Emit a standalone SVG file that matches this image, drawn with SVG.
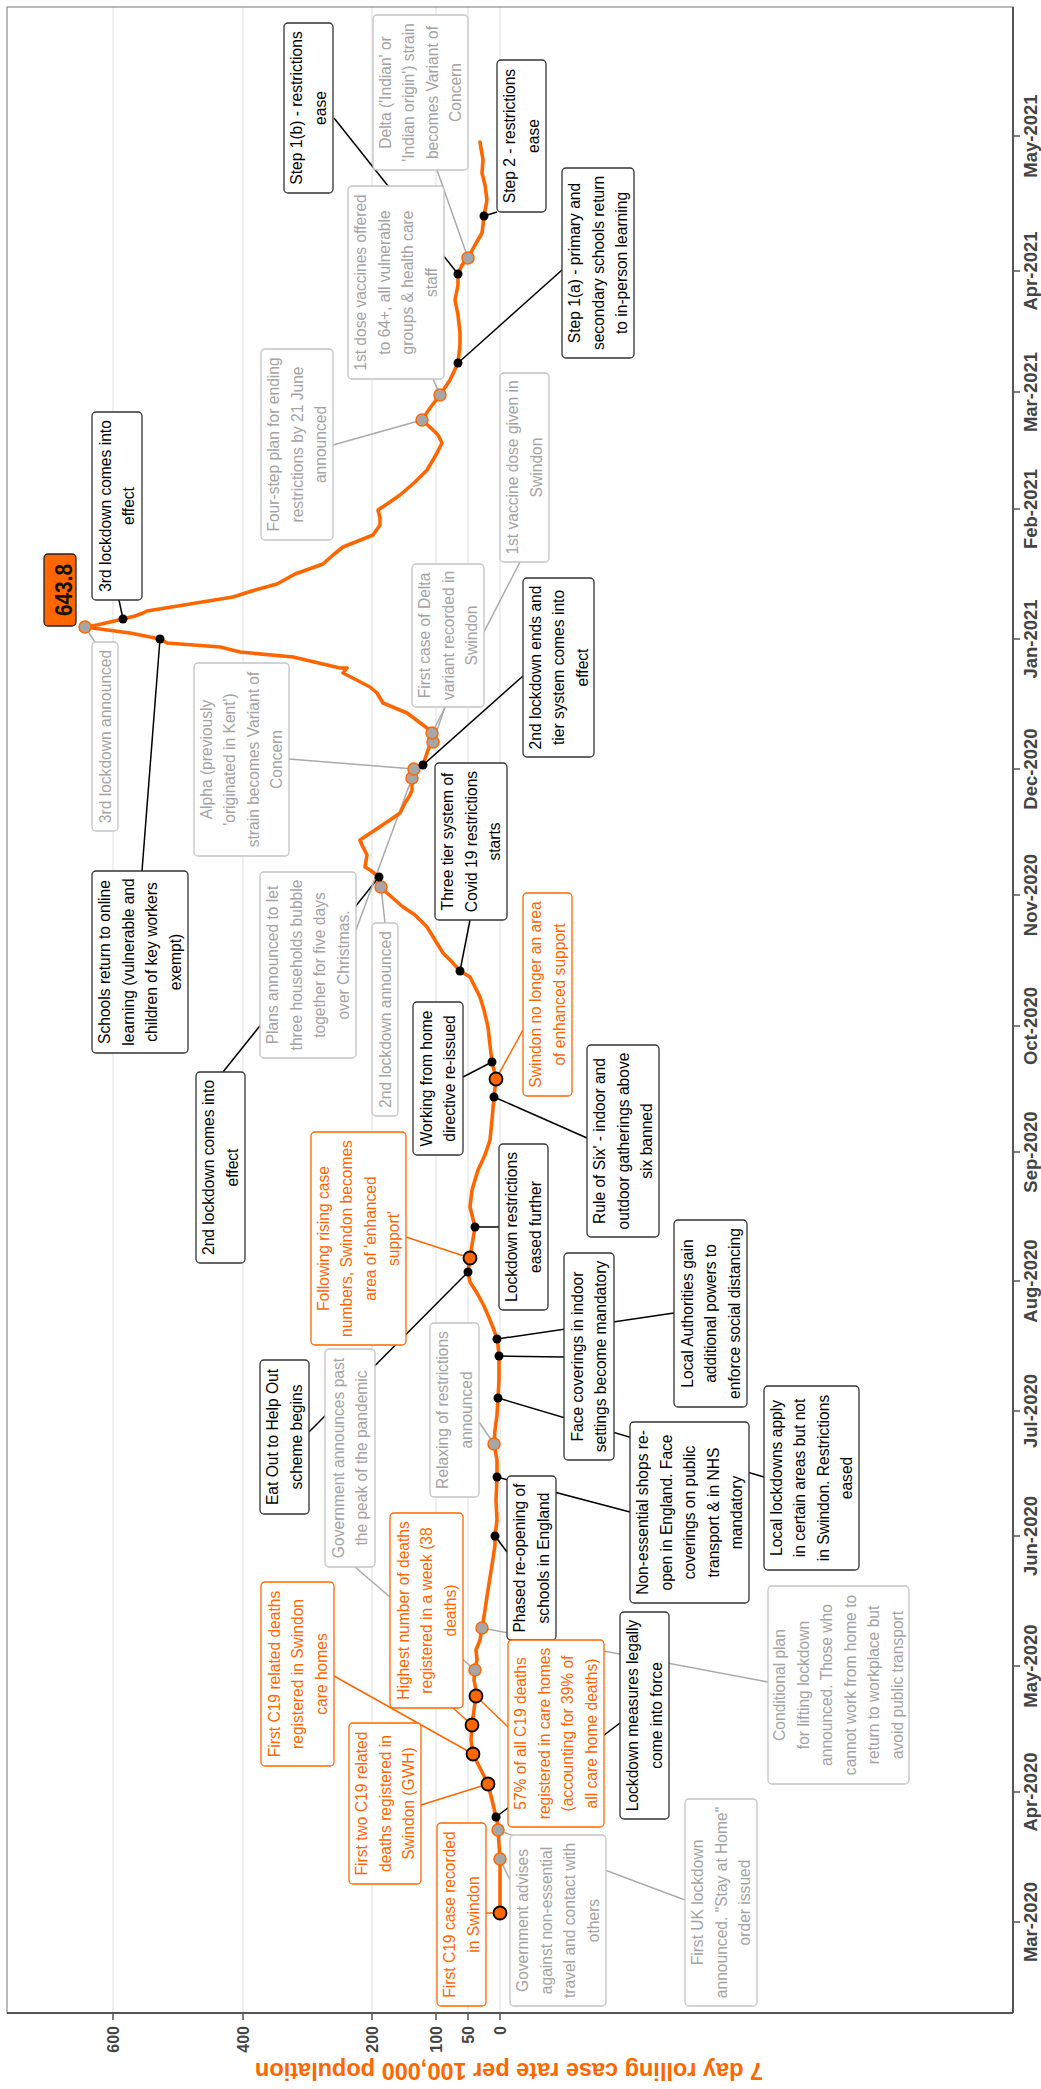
<svg xmlns="http://www.w3.org/2000/svg" width="1041" height="2089" viewBox="0 0 1041 2089">
<style>
text{font-family:"Liberation Sans",Arial,sans-serif;font-size:15.6px;text-anchor:middle}
.bk rect{fill:#fff;stroke:#333;stroke-width:1.3}
.gr rect{fill:#fff;stroke:#c4c4c4;stroke-width:1.3}
.or rect{fill:#fff;stroke:#ff6600;stroke-width:1.3}
.bk text{fill:#000}
.gr text{fill:#a3a3a3}
.or text{fill:#ff6600}
.grid{stroke:#e4e4e4;stroke-width:1.2}
.tick{stroke:#555;stroke-width:1.5}
.vlab{font-weight:bold;font-size:16px;fill:#444;text-anchor:end}
.dlab{font-weight:bold;font-size:18.5px;fill:#444}
.cb{stroke:#000;stroke-width:1.5;fill:none}
.cg{stroke:#aaa;stroke-width:1.5;fill:none}
.co{stroke:#ff6600;stroke-width:1.5;fill:none}
.mb{fill:#000}
.mg{fill:#a6a6a6;stroke:#ff6600;stroke-width:1.5}
.mo{fill:#ff6600;stroke:#000;stroke-width:1.8}
</style>
<rect x="0" y="0" width="1041" height="2089" fill="#fff"/>
<g id="axes">
<g class="grid">
<line x1="113" y1="7" x2="113" y2="2013"/><line x1="243" y1="7" x2="243" y2="2013"/><line x1="372" y1="7" x2="372" y2="2013"/><line x1="436" y1="7" x2="436" y2="2013"/><line x1="468" y1="7" x2="468" y2="2013"/><line x1="500" y1="7" x2="500" y2="2013"/>
</g>
<rect x="7" y="7" width="1006" height="2006" fill="none" stroke="#777" stroke-width="1"/>
<line x1="7" y1="2013" x2="1013" y2="2013" stroke="#555" stroke-width="2"/>
<line x1="1013" y1="7" x2="1013" y2="2013" stroke="#555" stroke-width="2"/>
<g class="tick">
<line x1="113" y1="2013" x2="113" y2="2020"/><line x1="243" y1="2013" x2="243" y2="2020"/><line x1="372" y1="2013" x2="372" y2="2020"/><line x1="436" y1="2013" x2="436" y2="2020"/><line x1="468" y1="2013" x2="468" y2="2020"/><line x1="500" y1="2013" x2="500" y2="2020"/>
<line x1="1013" y1="1922" x2="1020" y2="1922"/><line x1="1013" y1="1792" x2="1020" y2="1792"/><line x1="1013" y1="1666" x2="1020" y2="1666"/><line x1="1013" y1="1536" x2="1020" y2="1536"/><line x1="1013" y1="1411" x2="1020" y2="1411"/><line x1="1013" y1="1281" x2="1020" y2="1281"/><line x1="1013" y1="1152" x2="1020" y2="1152"/><line x1="1013" y1="1026" x2="1020" y2="1026"/><line x1="1013" y1="895" x2="1020" y2="895"/><line x1="1013" y1="769" x2="1020" y2="769"/><line x1="1013" y1="639" x2="1020" y2="639"/><line x1="1013" y1="509" x2="1020" y2="509"/><line x1="1013" y1="392" x2="1020" y2="392"/><line x1="1013" y1="271" x2="1020" y2="271"/><line x1="1013" y1="136" x2="1020" y2="136"/>
</g>
<text class="vlab" transform="translate(113,2026) rotate(-90)" x="0" y="5.8">600</text>
<text class="vlab" transform="translate(243,2026) rotate(-90)" x="0" y="5.8">400</text>
<text class="vlab" transform="translate(372,2026) rotate(-90)" x="0" y="5.8">200</text>
<text class="vlab" transform="translate(436,2026) rotate(-90)" x="0" y="5.8">100</text>
<text class="vlab" transform="translate(468,2026) rotate(-90)" x="0" y="5.8">50</text>
<text class="vlab" transform="translate(500,2026) rotate(-90)" x="0" y="5.8">0</text>
<text class="dlab" transform="translate(1037,1922) rotate(-90)">Mar-2020</text>
<text class="dlab" transform="translate(1037,1792) rotate(-90)">Apr-2020</text>
<text class="dlab" transform="translate(1037,1666) rotate(-90)">May-2020</text>
<text class="dlab" transform="translate(1037,1536) rotate(-90)">Jun-2020</text>
<text class="dlab" transform="translate(1037,1411) rotate(-90)">Jul-2020</text>
<text class="dlab" transform="translate(1037,1281) rotate(-90)">Aug-2020</text>
<text class="dlab" transform="translate(1037,1152) rotate(-90)">Sep-2020</text>
<text class="dlab" transform="translate(1037,1026) rotate(-90)">Oct-2020</text>
<text class="dlab" transform="translate(1037,895) rotate(-90)">Nov-2020</text>
<text class="dlab" transform="translate(1037,769) rotate(-90)">Dec-2020</text>
<text class="dlab" transform="translate(1037,639) rotate(-90)">Jan-2021</text>
<text class="dlab" transform="translate(1037,509) rotate(-90)">Feb-2021</text>
<text class="dlab" transform="translate(1037,392) rotate(-90)">Mar-2021</text>
<text class="dlab" transform="translate(1037,271) rotate(-90)">Apr-2021</text>
<text class="dlab" transform="translate(1037,136) rotate(-90)">May-2021</text>
<text transform="translate(509,2063) rotate(180)" style="font-weight:bold;font-size:23.5px;fill:#ff6600">7 day rolling case rate per 100,000 population</text>
</g>
<g id="connectors">
<g class="cb">
<line x1="334" y1="118" x2="458" y2="274"/>
<line x1="562" y1="270" x2="458" y2="363"/>
<line x1="497" y1="212" x2="484" y2="216"/>
<line x1="119" y1="600" x2="123" y2="619"/>
<line x1="142" y1="871" x2="160" y2="639"/>
<line x1="523" y1="676" x2="423" y2="765"/>
<line x1="470" y1="920" x2="460" y2="971"/>
<line x1="223" y1="1072" x2="379" y2="877"/>
<line x1="463" y1="1077" x2="492" y2="1062"/>
<line x1="587" y1="1138" x2="494" y2="1097"/>
<line x1="499" y1="1227" x2="475" y2="1227"/>
<line x1="309" y1="1432" x2="468" y2="1272"/>
<line x1="507" y1="1552" x2="495" y2="1536"/>
<line x1="620" y1="1723" x2="496" y2="1817"/>
<line x1="630" y1="1512" x2="497" y2="1477"/>
<line x1="564" y1="1357" x2="499" y2="1356"/>
<line x1="674" y1="1313" x2="497" y2="1339"/>
<line x1="764" y1="1477" x2="498" y2="1398"/>
</g>
<g class="cg">
<line x1="437" y1="170" x2="468" y2="258"/>
<line x1="433" y1="379" x2="440" y2="395"/>
<line x1="333" y1="445" x2="422" y2="420"/>
<line x1="520" y1="562" x2="432" y2="733"/>
<line x1="445" y1="707" x2="433" y2="742"/>
<line x1="95" y1="642" x2="85" y2="627"/>
<line x1="289" y1="759" x2="414" y2="769"/>
<line x1="356" y1="930" x2="412" y2="778"/>
<line x1="385" y1="923" x2="381" y2="887"/>
<line x1="355" y1="1567" x2="475" y2="1670"/>
<line x1="479" y1="1422" x2="494" y2="1444"/>
<line x1="768" y1="1682" x2="482" y2="1628"/>
<line x1="510" y1="1880" x2="500" y2="1859"/>
<line x1="685" y1="1900" x2="498" y2="1830"/>
</g>
<g class="co">
<line x1="523" y1="1030" x2="496" y2="1079"/>
<line x1="406" y1="1237" x2="470" y2="1258"/>
<line x1="453" y1="1708" x2="472" y2="1725"/>
<line x1="334" y1="1676" x2="473" y2="1754"/>
<line x1="421" y1="1805" x2="488" y2="1784"/>
<line x1="486" y1="1913" x2="500" y2="1913"/>
<line x1="508" y1="1727" x2="476" y2="1696"/>
</g>
</g>
<g id="series">
<path fill="none" stroke="#ff6600" stroke-width="3.6" stroke-linejoin="round" stroke-linecap="round" d="M500,1913 L500,1880 L500,1859 L498,1830 L497,1820 L496,1817 L492,1800 L488,1784 L480,1768 L473,1754 L471,1740 L472,1725 L474,1710 L476,1696 L476,1690 L474,1680 L475,1670 L477,1660 L476,1650 L480,1640 L482,1628 L485,1610 L488,1590 L492,1565 L495,1545 L495,1536 L497,1520 L496,1500 L497,1477 L497,1460 L494,1444 L495,1430 L497,1415 L498,1398 L499,1380 L499,1356 L498,1345 L497,1339 L494,1330 L490,1320 L484,1306 L477,1293 L470,1282 L468,1272 L470,1258 L472,1245 L475,1227 L472,1215 L470,1207 L472,1190 L478,1170 L485,1155 L490,1140 L492,1120 L494,1097 L496,1079 L494,1070 L492,1062 L490,1045 L488,1027 L484,1010 L480,997 L474,985 L470,977 L460,971 L452,962 L443,953 L435,940 L427,927 L415,915 L403,907 L395,900 L387,893 L381,887 L379,877 L370,870 L365,867 L367,855 L362,845 L360,840 L375,830 L390,820 L400,813 L405,803 L410,795 L412,790 L412,778 L414,769 L423,765 L427,753 L430,745 L433,742 L432,733 L427,728 L407,713 L383,703 L377,693 L370,687 L343,673 L347,668 L340,668 L293,657 L240,652 L220,647 L167,643 L160,639 L130,633 L100,629 L85,627 L97,625 L110,622 L123,619 L135,616 L143,613 L147,611 L190,604 L233,597 L255,590 L277,584 L295,574 L323,564 L333,555 L343,547 L358,541 L373,535 L380,525 L380,518 L378,510 L390,502 L400,495 L415,482 L427,470 L433,460 L437,453 L442,443 L438,435 L433,430 L422,420 L430,408 L440,395 L450,380 L458,363 L460,345 L460,333 L458,315 L455,300 L458,285 L458,274 L462,265 L468,258 L475,245 L482,233 L483,225 L484,216 L487,200 L485,185 L482,173 L483,160 L480,142"/>
</g>
<g id="markers">
<g class="mg">
<circle cx="500" cy="1859" r="6"/><circle cx="498" cy="1830" r="6"/><circle cx="475" cy="1670" r="6"/><circle cx="482" cy="1628" r="6"/><circle cx="494" cy="1444" r="6"/><circle cx="381" cy="887" r="6"/><circle cx="412" cy="778" r="6"/><circle cx="414" cy="769" r="6"/><circle cx="433" cy="742" r="6"/><circle cx="432" cy="733" r="6"/><circle cx="85" cy="627" r="6"/><circle cx="422" cy="420" r="6"/><circle cx="440" cy="395" r="6"/><circle cx="468" cy="258" r="6"/>
</g>
<g class="mo">
<circle cx="500" cy="1913" r="6.5"/><circle cx="488" cy="1784" r="6.5"/><circle cx="473" cy="1754" r="6.5"/><circle cx="472" cy="1725" r="6.5"/><circle cx="476" cy="1696" r="6.5"/><circle cx="470" cy="1258" r="6.5"/><circle cx="496" cy="1079" r="6.5"/>
</g>
<g class="mb">
<circle cx="496" cy="1817" r="4.5"/><circle cx="495" cy="1536" r="4.5"/><circle cx="497" cy="1477" r="4.5"/><circle cx="498" cy="1398" r="4.5"/><circle cx="499" cy="1356" r="4.5"/><circle cx="497" cy="1339" r="4.5"/><circle cx="468" cy="1272" r="4.5"/><circle cx="475" cy="1227" r="4.5"/><circle cx="494" cy="1097" r="4.5"/><circle cx="492" cy="1062" r="4.5"/><circle cx="460" cy="971" r="4.5"/><circle cx="379" cy="877" r="4.5"/><circle cx="423" cy="765" r="4.5"/><circle cx="160" cy="639" r="4.5"/><circle cx="123" cy="619" r="4.5"/><circle cx="458" cy="363" r="4.5"/><circle cx="458" cy="274" r="4.5"/><circle cx="484" cy="216" r="4.5"/>
</g>
</g>
<g id="nodes">
<g id="n-step1b" class="bk"><rect x="284" y="23" width="49" height="170" rx="4"/><text transform="translate(308.5,108) rotate(-90)"><tspan x="0" y="-6.25">Step 1(b) - restrictions</tspan><tspan x="0" y="17.25">ease</tspan></text></g>
<g id="n-delta-voc" class="gr"><rect x="373" y="15" width="95" height="155" rx="4"/><text transform="translate(420.5,92.5) rotate(-90)"><tspan x="0" y="-29.75">Delta ('Indian' or</tspan><tspan x="0" y="-6.25">'Indian origin') strain</tspan><tspan x="0" y="17.25">becomes Variant of</tspan><tspan x="0" y="40.75">Concern</tspan></text></g>
<g id="n-dose64" class="gr"><rect x="348" y="186" width="96" height="193" rx="4"/><text transform="translate(396,282.5) rotate(-90)"><tspan x="0" y="-29.75">1st dose vaccines offered</tspan><tspan x="0" y="-6.25">to 64+, all vulnerable</tspan><tspan x="0" y="17.25">groups &amp; health care</tspan><tspan x="0" y="40.75">staff</tspan></text></g>
<g id="n-step2" class="bk"><rect x="497" y="60" width="49" height="152" rx="4"/><text transform="translate(521.5,136) rotate(-90)"><tspan x="0" y="-6.25">Step 2 - restrictions</tspan><tspan x="0" y="17.25">ease</tspan></text></g>
<g id="n-step1a" class="bk"><rect x="562" y="168" width="72" height="190" rx="4"/><text transform="translate(598,263) rotate(-90)"><tspan x="0" y="-18">Step 1(a) - primary and</tspan><tspan x="0" y="5.5">secondary schools return</tspan><tspan x="0" y="29">to in-person learning</tspan></text></g>
<g id="n-fourstep" class="gr"><rect x="261" y="349" width="72" height="191" rx="4"/><text transform="translate(297,444.5) rotate(-90)"><tspan x="0" y="-18">Four-step plan for ending</tspan><tspan x="0" y="5.5">restrictions by 21 June</tspan><tspan x="0" y="29">announced</tspan></text></g>
<g id="n-vaccine1" class="gr"><rect x="500" y="373" width="49" height="189" rx="4"/><text transform="translate(524.5,467.5) rotate(-90)"><tspan x="0" y="-6.25">1st vaccine dose given in</tspan><tspan x="0" y="17.25">Swindon</tspan></text></g>
<g id="n-delta-first" class="gr"><rect x="412" y="564" width="72" height="143" rx="4"/><text transform="translate(448,635.5) rotate(-90)"><tspan x="0" y="-18">First case of Delta</tspan><tspan x="0" y="5.5">variant recorded in</tspan><tspan x="0" y="29">Swindon</tspan></text></g>
<g id="n-ld3-effect" class="bk"><rect x="92" y="412" width="50" height="188" rx="4"/><text transform="translate(117,506) rotate(-90)"><tspan x="0" y="-6.25">3rd lockdown comes into</tspan><tspan x="0" y="17.25">effect</tspan></text></g>
<g id="n-peak"><rect x="44" y="554" width="32" height="72" rx="4" fill="#ff6600" stroke="#222" stroke-width="1.3"/><text transform="translate(60,590) rotate(-90)" x="0" y="12" textLength="52" lengthAdjust="spacingAndGlyphs" style="font-weight:bold;font-size:24px;fill:#111">643.8</text></g>
<g id="n-ld3-ann" class="gr"><rect x="92" y="642" width="26" height="189" rx="4"/><text transform="translate(105,736.5) rotate(-90)"><tspan x="0" y="5.5">3rd lockdown announced</tspan></text></g>
<g id="n-alpha" class="gr"><rect x="194" y="663" width="95" height="193" rx="4"/><text transform="translate(241.5,759.5) rotate(-90)"><tspan x="0" y="-29.75">Alpha (previously</tspan><tspan x="0" y="-6.25">'originated in Kent')</tspan><tspan x="0" y="17.25">strain becomes Variant of</tspan><tspan x="0" y="40.75">Concern</tspan></text></g>
<g id="n-schools" class="bk"><rect x="92" y="871" width="96" height="182" rx="4"/><text transform="translate(140,962) rotate(-90)"><tspan x="0" y="-29.75">Schools return to online</tspan><tspan x="0" y="-6.25">learning (vulnerable and</tspan><tspan x="0" y="17.25">children of key workers</tspan><tspan x="0" y="40.75">exempt)</tspan></text></g>
<g id="n-ld2-ends" class="bk"><rect x="523" y="578" width="71" height="179" rx="4"/><text transform="translate(558.5,667.5) rotate(-90)"><tspan x="0" y="-18">2nd lockdown ends and</tspan><tspan x="0" y="5.5">tier system comes into</tspan><tspan x="0" y="29">effect</tspan></text></g>
<g id="n-three-tier" class="bk"><rect x="435" y="763" width="72" height="157" rx="4"/><text transform="translate(471,841.5) rotate(-90)"><tspan x="0" y="-18">Three tier system of</tspan><tspan x="0" y="5.5">Covid 19 restrictions</tspan><tspan x="0" y="29">starts</tspan></text></g>
<g id="n-plans" class="gr"><rect x="260" y="872" width="96" height="186" rx="4"/><text transform="translate(308,965) rotate(-90)"><tspan x="0" y="-29.75">Plans announced to let</tspan><tspan x="0" y="-6.25">three households bubble</tspan><tspan x="0" y="17.25">together for five days</tspan><tspan x="0" y="40.75">over Christmas.</tspan></text></g>
<g id="n-ld2-effect" class="bk"><rect x="196" y="1072" width="49" height="191" rx="4"/><text transform="translate(220.5,1167.5) rotate(-90)"><tspan x="0" y="-6.25">2nd lockdown comes into</tspan><tspan x="0" y="17.25">effect</tspan></text></g>
<g id="n-ld2-ann" class="gr"><rect x="372" y="923" width="26" height="193" rx="4"/><text transform="translate(385,1019.5) rotate(-90)"><tspan x="0" y="5.5">2nd lockdown announced</tspan></text></g>
<g id="n-wfh" class="bk"><rect x="413" y="1002" width="50" height="153" rx="4"/><text transform="translate(438,1078.5) rotate(-90)"><tspan x="0" y="-6.25">Working from home</tspan><tspan x="0" y="17.25">directive re-issued</tspan></text></g>
<g id="n-no-longer" class="or"><rect x="523" y="893" width="49" height="203" rx="4"/><text transform="translate(547.5,994.5) rotate(-90)"><tspan x="0" y="-6.25">Swindon no longer an area</tspan><tspan x="0" y="17.25">of enhanced support</tspan></text></g>
<g id="n-rule-six" class="bk"><rect x="587" y="1045" width="72" height="192" rx="4"/><text transform="translate(623,1141) rotate(-90)"><tspan x="0" y="-18">Rule of Six' - indoor and</tspan><tspan x="0" y="5.5">outdoor gatherings above</tspan><tspan x="0" y="29">six banned</tspan></text></g>
<g id="n-eased" class="bk"><rect x="499" y="1144" width="49" height="166" rx="4"/><text transform="translate(523.5,1227) rotate(-90)"><tspan x="0" y="-6.25">Lockdown restrictions</tspan><tspan x="0" y="17.25">eased further</tspan></text></g>
<g id="n-enhanced" class="or"><rect x="311" y="1132" width="95" height="213" rx="4"/><text transform="translate(358.5,1238.5) rotate(-90)"><tspan x="0" y="-29.75">Following rising case</tspan><tspan x="0" y="-6.25">numbers, Swindon becomes</tspan><tspan x="0" y="17.25">area of 'enhanced</tspan><tspan x="0" y="40.75">support'</tspan></text></g>
<g id="n-eatout" class="bk"><rect x="260" y="1360" width="49" height="154" rx="4"/><text transform="translate(284.5,1437) rotate(-90)"><tspan x="0" y="-6.25">Eat Out to Help Out</tspan><tspan x="0" y="17.25">scheme begins</tspan></text></g>
<g id="n-past-peak" class="gr"><rect x="325" y="1349" width="50" height="218" rx="4"/><text transform="translate(350,1458) rotate(-90)"><tspan x="0" y="-6.25">Government announces past</tspan><tspan x="0" y="17.25">the peak of the pandemic</tspan></text></g>
<g id="n-relaxing" class="gr"><rect x="430" y="1323" width="49" height="174" rx="4"/><text transform="translate(454.5,1410) rotate(-90)"><tspan x="0" y="-6.25">Relaxing of restrictions</tspan><tspan x="0" y="17.25">announced</tspan></text></g>
<g id="n-highest" class="or"><rect x="390" y="1513" width="73" height="195" rx="4"/><text transform="translate(426.5,1610.5) rotate(-90)"><tspan x="0" y="-18">Highest number of deaths</tspan><tspan x="0" y="5.5">registered in a week (38</tspan><tspan x="0" y="29">deaths)</tspan></text></g>
<g id="n-care-homes" class="or"><rect x="261" y="1582" width="73" height="184" rx="4"/><text transform="translate(297.5,1674) rotate(-90)"><tspan x="0" y="-18">First C19 related deaths</tspan><tspan x="0" y="5.5">registered in Swindon</tspan><tspan x="0" y="29">care homes</tspan></text></g>
<g id="n-first-two" class="or"><rect x="349" y="1723" width="72" height="161" rx="4"/><text transform="translate(385,1803.5) rotate(-90)"><tspan x="0" y="-18">First two C19 related</tspan><tspan x="0" y="5.5">deaths registered in</tspan><tspan x="0" y="29">Swindon (GWH)</tspan></text></g>
<g id="n-first-case" class="or"><rect x="437" y="1823" width="49" height="183" rx="4"/><text transform="translate(461.5,1914.5) rotate(-90)"><tspan x="0" y="-6.25">First C19 case recorded</tspan><tspan x="0" y="17.25">in Swindon</tspan></text></g>
<g id="n-phased" class="bk"><rect x="507" y="1476" width="49" height="164" rx="4"/><text transform="translate(531.5,1558) rotate(-90)"><tspan x="0" y="-6.25">Phased re-opening of</tspan><tspan x="0" y="17.25">schools in England</tspan></text></g>
<g id="n-pct57" class="or"><rect x="508" y="1640" width="96" height="187" rx="4"/><text transform="translate(556,1733.5) rotate(-90)"><tspan x="0" y="-29.75">57% of all C19 deaths</tspan><tspan x="0" y="-6.25">registered in care homes</tspan><tspan x="0" y="17.25">(accounting for 39% of</tspan><tspan x="0" y="40.75">all care home deaths)</tspan></text></g>
<g id="n-ld-legal" class="bk"><rect x="620" y="1612" width="49" height="207" rx="4"/><text transform="translate(644.5,1715.5) rotate(-90)"><tspan x="0" y="-6.25">Lockdown measures legally</tspan><tspan x="0" y="17.25">come into force</tspan></text></g>
<g id="n-gov-advises" class="gr"><rect x="510" y="1835" width="96" height="171" rx="4"/><text transform="translate(558,1920.5) rotate(-90)"><tspan x="0" y="-29.75">Government advises</tspan><tspan x="0" y="-6.25">against non-essential</tspan><tspan x="0" y="17.25">travel and contact with</tspan><tspan x="0" y="40.75">others</tspan></text></g>
<g id="n-first-uk" class="gr"><rect x="685" y="1799" width="72" height="207" rx="4"/><text transform="translate(721,1902.5) rotate(-90)"><tspan x="0" y="-18">First UK lockdown</tspan><tspan x="0" y="5.5">announced. "Stay at Home"</tspan><tspan x="0" y="29">order issued</tspan></text></g>
<g id="n-conditional" class="gr"><rect x="768" y="1586" width="141" height="198" rx="4"/><text transform="translate(838.5,1685) rotate(-90)"><tspan x="0" y="-53.25">Conditional plan</tspan><tspan x="0" y="-29.75">for lifting lockdown</tspan><tspan x="0" y="-6.25">announced. Those who</tspan><tspan x="0" y="17.25">cannot work from home to</tspan><tspan x="0" y="40.75">return to workplace but</tspan><tspan x="0" y="64.25">avoid public transport</tspan></text></g>
<g id="n-non-essential" class="bk"><rect x="630" y="1422" width="119" height="181" rx="4"/><text transform="translate(689.5,1512.5) rotate(-90)"><tspan x="0" y="-41.5">Non-essential shops re-</tspan><tspan x="0" y="-18">open in England. Face</tspan><tspan x="0" y="5.5">coverings on public</tspan><tspan x="0" y="29">transport &amp; in NHS</tspan><tspan x="0" y="52.5">mandatory</tspan></text></g>
<g id="n-face-coverings" class="bk"><rect x="564" y="1253" width="50" height="207" rx="4"/><text transform="translate(589,1356.5) rotate(-90)"><tspan x="0" y="-6.25">Face coverings in indoor</tspan><tspan x="0" y="17.25">settings become mandatory</tspan></text></g>
<g id="n-local-auth" class="bk"><rect x="674" y="1220" width="73" height="187" rx="4"/><text transform="translate(710.5,1313.5) rotate(-90)"><tspan x="0" y="-18">Local Authorities gain</tspan><tspan x="0" y="5.5">additional powers to</tspan><tspan x="0" y="29">enforce social distancing</tspan></text></g>
<g id="n-local-lockdowns" class="bk"><rect x="764" y="1386" width="95" height="184" rx="4"/><text transform="translate(811.5,1478) rotate(-90)"><tspan x="0" y="-29.75">Local lockdowns apply</tspan><tspan x="0" y="-6.25">in certain areas but not</tspan><tspan x="0" y="17.25">in Swindon. Restrictions</tspan><tspan x="0" y="40.75">eased</tspan></text></g>
</g>
</svg>
